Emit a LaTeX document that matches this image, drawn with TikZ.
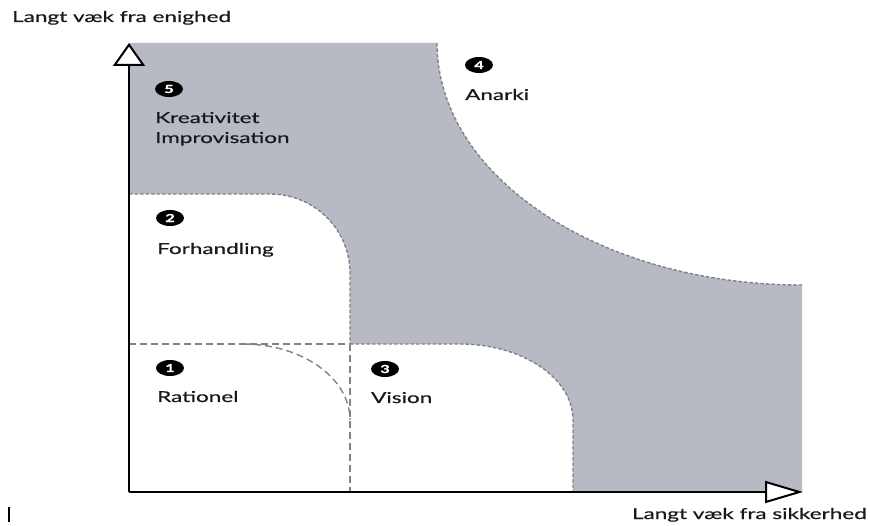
\documentclass[tikz,border=0pt]{standalone}
\usepackage{fontspec}
\setmainfont{Lato}[FakeStretch=1.5, FakeBold=0.6]
\usetikzlibrary{arrows.meta,shapes.geometric}

\definecolor{areagray}{RGB}{183,186,195}
\definecolor{dashgray}{RGB}{128,131,140}

\tikzset{
  badge/.style={ellipse, fill=black, text=white, inner sep=0pt,
    minimum width=28pt, minimum height=16pt,
    font=\fontsize{11}{11}\selectfont\bfseries},
  area/.style={anchor=base west, inner sep=0pt, text=black!90,
    font=\fontsize{15}{18}\selectfont},
  axlabel/.style={inner sep=0pt, text=black!90,
    font=\fontsize{15}{17}\selectfont},
  border/.style={dashgray, line width=1.4pt, dash pattern=on 3.5pt off 2pt},
  split/.style={dashgray, line width=1.4pt, dash pattern=on 7pt off 4pt},
  axis/.style={line width=2pt, line join=miter},
}

\begin{document}
\begin{tikzpicture}[x=1pt,y=1pt]
    \useasboundingbox (0,0) rectangle (870,525);

    % Shaded area
    \fill[areagray] (129,482) -- (437,482)
        arc[start angle=180, end angle=270, x radius=365, y radius=242]
        -- (802,33) -- (573,33) -- (573,105)
        arc[start angle=0, end angle=90, x radius=113, y radius=76]
        -- (350,181) -- (350,252)
        arc[start angle=0, end angle=90, x radius=80, y radius=79]
        -- (129,331) -- cycle;

    % Dashed borders between the zones
    \draw[border] (437,482) arc[start angle=180, end angle=270, x radius=365, y radius=242];
    \draw[border] (129,331) -- (270,331)
        arc[start angle=90, end angle=0, x radius=80, y radius=79] -- (350,181);
    \draw[border] (350,181) -- (460,181)
        arc[start angle=90, end angle=0, x radius=113, y radius=76] -- (573,33);
    \draw[split] (243,181) arc[start angle=90, end angle=0, x radius=107, y radius=76];
    \draw[split] (129,181) -- (350,181); % horizontal split
    \draw[split] (350,181) -- (350,33); % vertical split

    % Axes
    \coordinate (origin) at (129,33);
    \coordinate (ytop) at (129,482);
    \coordinate (xend) at (803,33);
    \draw[axis, -{Triangle[fill=white, length=23pt, width=32pt]}] (origin) -- (ytop);
    \draw[axis, -{Triangle[fill=white, length=38pt, width=22pt]}] (origin) -- (xend);

    \node[axlabel, anchor=base west] (ylabel) at (12,503) {Langt væk fra enighed};
    \node[axlabel, anchor=base east] (xlabel) at (867,6) {Langt væk fra sikkerhed};
    \draw[line width=1.2pt] (9,3) -- (9,18);

    % Zones
    \node[badge] (n1) at (170,157) {1};
    \node[area] (rationel) at (157,123) {Rationel};

    \node[badge] (n2) at (170,307) {2};
    \node[area] (forhandling) at (157,271) {Forhandling};

    \node[badge] (n3) at (385,156) {3};
    \node[area] (vision) at (371,122) {Vision};

    \node[badge] (n4) at (479,460) {4};
    \node[area] (anarki) at (465,425) {Anarki};

    \node[badge] (n5) at (169,436) {5};
    \node[area] (kreativ) at (155,402) {Kreativitet};
    \node[area] (improv) at (155,382) {Improvisation};
\end{tikzpicture}
\end{document}
